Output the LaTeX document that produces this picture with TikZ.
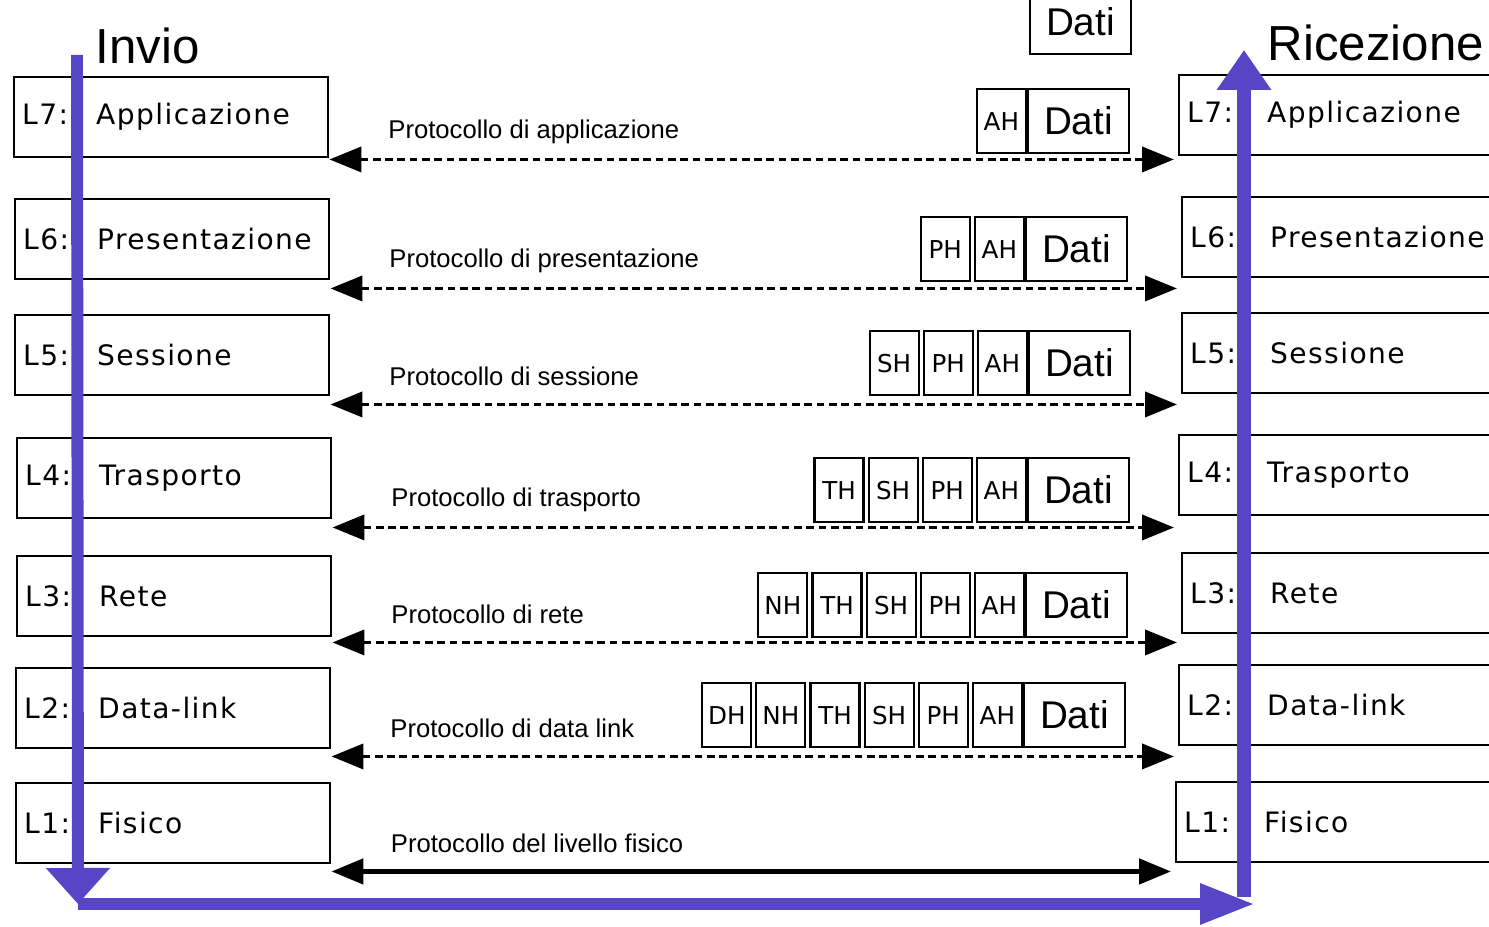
\documentclass[tikz,border=0pt]{standalone}
\usepackage{fontspec}
\usepackage{xcolor}
\usepackage{tikz}
\usetikzlibrary{positioning, arrows.meta}
\newfontfamily\dvfont{DejaVu Sans}
\newfontfamily\dvspfont[LetterSpace=5]{DejaVu Sans}
\newfontfamily\lsfont{Liberation Sans}
\definecolor{flowblue}{RGB}{86,70,198}
\newcommand{\lev}[3][0.74cm]{\makebox[#1][l]{#2}#3}

\begin{document}
\begin{tikzpicture}[
    >={Triangle[length=3.2mm, width=2.5mm]},
    layer/.style={rectangle, draw=black, line width=0.7pt, anchor=north west,
                  minimum height=0.8cm, text width=2.98cm, inner xsep=0.08cm,
                  align=left, font=\dvspfont\fontsize{8}{10}\selectfont},
    rlayer/.style={layer, text width=3.3cm},
    hbox/.style={rectangle, draw=black, line width=0.6pt, minimum width=0.49cm,
                 minimum height=0.64cm, inner sep=0pt,
                 font=\dvfont\fontsize{7}{8}\selectfont},
    dbox/.style={hbox, minimum width=1.01cm, font=\lsfont\fontsize{11}{12}\selectfont},
    proto/.style={<->, line width=1.1pt, dash pattern=on 2.2pt off 1.3pt,
                  shorten >=0.04cm},
    phys/.style={<->, line width=1.4pt, shorten >=0.04cm},
    plab/.style={pos=0, anchor=west, xshift=0.57cm, yshift=0.28cm, inner sep=0pt,
                 font=\lsfont\fontsize{7.3}{8}\selectfont},
    flow/.style={line width=3.4pt, flowblue},
    title/.style={font=\lsfont\fontsize{14}{16}\selectfont, anchor=west, inner sep=0pt},
]
\useasboundingbox (0,0) rectangle (14.89,-9.27);
\clip (0,0) rectangle (14.89,-9.27);
\fill[white] (0,0) rectangle (14.89,-9.27);

% === Titles ===
\node[title] (invio) at (0.95,-0.46) {Invio};
\node[title] (ricez) at (12.67,-0.43) {Ricezione};

% === Sending stack ===
\node[layer] (s7) at (0.13,-0.76) {\lev{L7:}{Applicazione}};
\node[layer] (s6) at (0.14,-1.98) {\lev{L6:}{Presentazione}};
\node[layer] (s5) at (0.14,-3.14) {\lev{L5:}{Sessione}};
\node[layer] (s4) at (0.16,-4.37) {\lev{L4:}{Trasporto}};
\node[layer] (s3) at (0.16,-5.55) {\lev{L3:}{Rete}};
\node[layer] (s2) at (0.15,-6.67) {\lev{L2:}{Data-link}};
\node[layer] (s1) at (0.15,-7.82) {\lev{L1:}{Fisico}};

% === Receiving stack ===
\node[rlayer] (r7) at (11.78,-0.74) {\lev[0.8cm]{L7:}{Applicazione}};
\node[rlayer] (r6) at (11.81,-1.96) {\lev[0.8cm]{L6:}{Presentazione}};
\node[rlayer] (r5) at (11.81,-3.12) {\lev[0.8cm]{L5:}{Sessione}};
\node[rlayer] (r4) at (11.78,-4.34) {\lev[0.8cm]{L4:}{Trasporto}};
\node[rlayer] (r3) at (11.81,-5.52) {\lev[0.8cm]{L3:}{Rete}};
\node[rlayer] (r2) at (11.78,-6.64) {\lev[0.8cm]{L2:}{Data-link}};
\node[rlayer] (r1) at (11.75,-7.81) {\lev[0.8cm]{L1:}{Fisico}};

% === Peer protocols ===
\coordinate (a7) at ([yshift=-0.01cm]s7.south east);
\coordinate (a6) at ([yshift=-0.08cm]s6.south east);
\coordinate (a5) at ([yshift=-0.08cm]s5.south east);
\coordinate (a4) at ([yshift=-0.08cm]s4.south east);
\coordinate (a3) at ([yshift=-0.05cm]s3.south east);
\coordinate (a2) at ([yshift=-0.07cm]s2.south east);
\coordinate (a1) at ([yshift=-0.07cm]s1.south east);
\draw[proto] (a7) -- (a7 -| r7.west) node[plab] {Protocollo di applicazione};
\draw[proto] (a6) -- (a6 -| r6.west) node[plab] {Protocollo di presentazione};
\draw[proto] (a5) -- (a5 -| r5.west) node[plab] {Protocollo di sessione};
\draw[proto] (a4) -- (a4 -| r4.west) node[plab] {Protocollo di trasporto};
\draw[proto] (a3) -- (a3 -| r3.west) node[plab] {Protocollo di rete};
\draw[proto] (a2) -- (a2 -| r2.west) node[plab] {Protocollo di data link};
\draw[phys] (a1) -- (a1 -| r1.west) node[plab] {Protocollo del livello fisico};

% === Encapsulated data units ===
\node[dbox, anchor=south east] (d8) at (11.32,-0.55) {Dati};

\node[dbox, anchor=north east] (d7) at (11.30,-0.88) {Dati};
\node[hbox, left=0pt of d7] (ah7) {AH};

\node[dbox, anchor=north east] (d6) at (11.28,-2.16) {Dati};
\node[hbox, left=0pt of d6] (ah6) {AH};
\node[hbox, left=0.03cm of ah6] (ph6) {PH};

\node[dbox, anchor=north east] (d5) at (11.31,-3.30) {Dati};
\node[hbox, left=0pt of d5] (ah5) {AH};
\node[hbox, left=0.03cm of ah5] (ph5) {PH};
\node[hbox, left=0.03cm of ph5] (sh5) {SH};

\node[dbox, anchor=north east] (d4) at (11.30,-4.57) {Dati};
\node[hbox, left=0pt of d4] (ah4) {AH};
\node[hbox, left=0.03cm of ah4] (ph4) {PH};
\node[hbox, left=0.03cm of ph4] (sh4) {SH};
\node[hbox, left=0.03cm of sh4] (th4) {TH};

\node[dbox, anchor=north east] (d3) at (11.28,-5.72) {Dati};
\node[hbox, left=0pt of d3] (ah3) {AH};
\node[hbox, left=0.03cm of ah3] (ph3) {PH};
\node[hbox, left=0.03cm of ph3] (sh3) {SH};
\node[hbox, left=0.03cm of sh3] (th3) {TH};
\node[hbox, left=0.03cm of th3] (nh3) {NH};

\node[dbox, anchor=north east] (d2) at (11.26,-6.82) {Dati};
\node[hbox, left=0pt of d2] (ah2) {AH};
\node[hbox, left=0.03cm of ah2] (ph2) {PH};
\node[hbox, left=0.03cm of ph2] (sh2) {SH};
\node[hbox, left=0.03cm of sh2] (th2) {TH};
\node[hbox, left=0.03cm of th2] (nh2) {NH};
\node[hbox, left=0.03cm of nh2] (dh2) {DH};

% === Data flow ===
\coordinate (sendtop) at (0.77,-0.55);
\coordinate (sendbot) at (0.78,-9.04);
\coordinate (recvend) at (12.55,-9.04);
\coordinate (recvbot) at (12.44,-8.97);
\coordinate (recvtop) at (12.44,-0.50);
\draw[flow, -{Triangle[length=0.36cm, width=0.62cm]}] (sendtop) -- (sendbot);
\draw[flow, -{Triangle[length=0.55cm, width=0.38cm]}] (sendbot) -- (recvend);
\draw[flow, line width=4pt, -{Triangle[length=0.40cm, width=0.52cm]}] (recvbot) -- (recvtop);

\end{tikzpicture}
\end{document}
